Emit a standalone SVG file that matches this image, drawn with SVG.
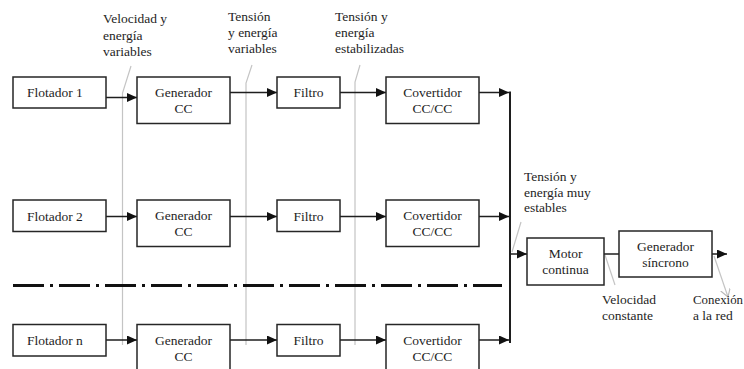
<svg xmlns="http://www.w3.org/2000/svg" width="744" height="369" viewBox="0 0 744 369">
<style>
.box{fill:#fff;stroke:#262626;stroke-width:1.5}
.t{font-family:'Liberation Serif','Tinos','Times New Roman','DejaVu Serif',serif;font-size:13.5px;fill:#1e1e1e}
.c{text-anchor:middle}
.ln{stroke:#1e1e1e;stroke-width:1.5;fill:none}
.g{stroke:#c4c4c4;stroke-width:1.2;fill:none}
</style>
<defs>
<marker id="ah" markerUnits="userSpaceOnUse" markerWidth="11" markerHeight="10" refX="10" refY="4.5" orient="auto">
<path d="M0,0 L10,4.5 L0,9 z" fill="#111"/>
</marker>
<marker id="ga" markerUnits="userSpaceOnUse" markerWidth="12" markerHeight="12" refX="8" refY="5" orient="auto">
<path d="M0,0 L8,5 L0,10" fill="none" stroke="#b8b8b8" stroke-width="1.1"/>
</marker>
</defs>
<rect width="744" height="369" fill="#fff"/>

<g id="annotations">
<path class="g" d="M131,66 L122.5,93 L122.5,345"/>
<path class="g" d="M252,65 L246,83 L246,345"/>
<path class="g" d="M360,65 L355,82 L355,345"/>
<path class="g" d="M521,222 L512,252"/>
<path class="g" d="M605,255 L615,285"/>
<path class="g" d="M714,256 L728,297" marker-end="url(#ga)"/>
<line x1="13" y1="285.5" x2="502" y2="285.5" stroke="#111" stroke-width="3" stroke-dasharray="31 6 3 6"/>
</g>

<g id="labels" font-family="Liberation Serif, serif">
<text class="t" x="103" y="23">Velocidad y</text>
<text class="t" x="103" y="39.5">energía</text>
<text class="t" x="103" y="56">variables</text>
<text class="t" x="228" y="21">Tensión</text>
<text class="t" x="228" y="37">y energía</text>
<text class="t" x="228" y="53">variables</text>
<text class="t" x="335" y="21">Tensión y</text>
<text class="t" x="335" y="37">energía</text>
<text class="t" x="335" y="53">estabilizadas</text>
<text class="t" x="524" y="181">Tensión y</text>
<text class="t" x="524" y="196.5">energía muy</text>
<text class="t" x="524" y="212">estables</text>
<text class="t" x="602" y="304">Velocidad</text>
<text class="t" x="602" y="320">constante</text>
<text class="t" x="693" y="304" textLength="50" lengthAdjust="spacingAndGlyphs">Conexión</text>
<text class="t" x="693" y="320">a la red</text>
</g>

<g id="connectors">
<line class="ln" x1="106" y1="97.5" x2="137" y2="97.5" marker-end="url(#ah)"/>
<line class="ln" x1="230" y1="92.5" x2="277" y2="92.5" marker-end="url(#ah)"/>
<line class="ln" x1="340" y1="92.5" x2="386" y2="92.5" marker-end="url(#ah)"/>
<line class="ln" x1="479" y1="92.5" x2="509" y2="92.5" marker-end="url(#ah)"/>
<line class="ln" x1="106" y1="216.5" x2="137" y2="216.5" marker-end="url(#ah)"/>
<line class="ln" x1="230" y1="216.5" x2="277" y2="216.5" marker-end="url(#ah)"/>
<line class="ln" x1="340" y1="216.5" x2="386" y2="216.5" marker-end="url(#ah)"/>
<line class="ln" x1="479" y1="216.5" x2="509" y2="216.5" marker-end="url(#ah)"/>
<line class="ln" x1="106" y1="340" x2="137" y2="340" marker-end="url(#ah)"/>
<line class="ln" x1="230" y1="340" x2="277" y2="340" marker-end="url(#ah)"/>
<line class="ln" x1="340" y1="340" x2="386" y2="340" marker-end="url(#ah)"/>
<line class="ln" x1="479" y1="340" x2="509" y2="340" marker-end="url(#ah)"/>
<line x1="510" y1="91.5" x2="510" y2="343" stroke="#1e1e1e" stroke-width="2"/>
<line class="ln" x1="510" y1="254" x2="527" y2="254" marker-end="url(#ah)"/>
<line class="ln" x1="604" y1="254" x2="619" y2="254"/>
<line class="ln" x1="712" y1="254" x2="727" y2="254" marker-end="url(#ah)"/>
</g>

<g id="flotador1"><rect class="box" x="13" y="77" width="93" height="31"/><text class="t" x="27" y="97">Flotador 1</text></g>
<g id="generador1"><rect class="box" x="137" y="77" width="93" height="46.5"/><text class="t c" x="183.5" y="97">Generador</text><text class="t c" x="183.5" y="113">CC</text></g>
<g id="filtro1"><rect class="box" x="277" y="77" width="63" height="31"/><text class="t c" x="308.5" y="97">Filtro</text></g>
<g id="convertidor1"><rect class="box" x="386" y="77" width="93" height="46.5"/><text class="t c" x="432.5" y="97">Covertidor</text><text class="t c" x="432.5" y="113">CC/CC</text></g>

<g id="flotador2"><rect class="box" x="13" y="200" width="93" height="31.5"/><text class="t" x="27" y="220.5">Flotador 2</text></g>
<g id="generador2"><rect class="box" x="137" y="200" width="93" height="46.5"/><text class="t c" x="183.5" y="220">Generador</text><text class="t c" x="183.5" y="236">CC</text></g>
<g id="filtro2"><rect class="box" x="277" y="200" width="63" height="31.5"/><text class="t c" x="308.5" y="220.5">Filtro</text></g>
<g id="convertidor2"><rect class="box" x="386" y="200" width="93" height="46.5"/><text class="t c" x="432.5" y="220">Covertidor</text><text class="t c" x="432.5" y="236">CC/CC</text></g>

<g id="flotadorn"><rect class="box" x="13" y="324.5" width="93" height="31.5"/><text class="t" x="27" y="345">Flotador n</text></g>
<g id="generadorn"><rect class="box" x="137" y="324.5" width="93" height="47"/><text class="t c" x="183.5" y="344.5">Generador</text><text class="t c" x="183.5" y="360.5">CC</text></g>
<g id="filtron"><rect class="box" x="277" y="324.5" width="63" height="31.5"/><text class="t c" x="308.5" y="345">Filtro</text></g>
<g id="convertidorn"><rect class="box" x="386" y="324.5" width="93" height="47"/><text class="t c" x="432.5" y="344.5">Covertidor</text><text class="t c" x="432.5" y="360.5">CC/CC</text></g>

<g id="motor"><rect class="box" x="527" y="238" width="77" height="47"/><text class="t c" x="565.5" y="257.5">Motor</text><text class="t c" x="565.5" y="273.5">continua</text></g>
<g id="generadorSincrono"><rect class="box" x="619" y="231" width="93" height="46"/><text class="t c" x="665.5" y="250.5">Generador</text><text class="t c" x="665.5" y="266.5">síncrono</text></g>
</svg>
